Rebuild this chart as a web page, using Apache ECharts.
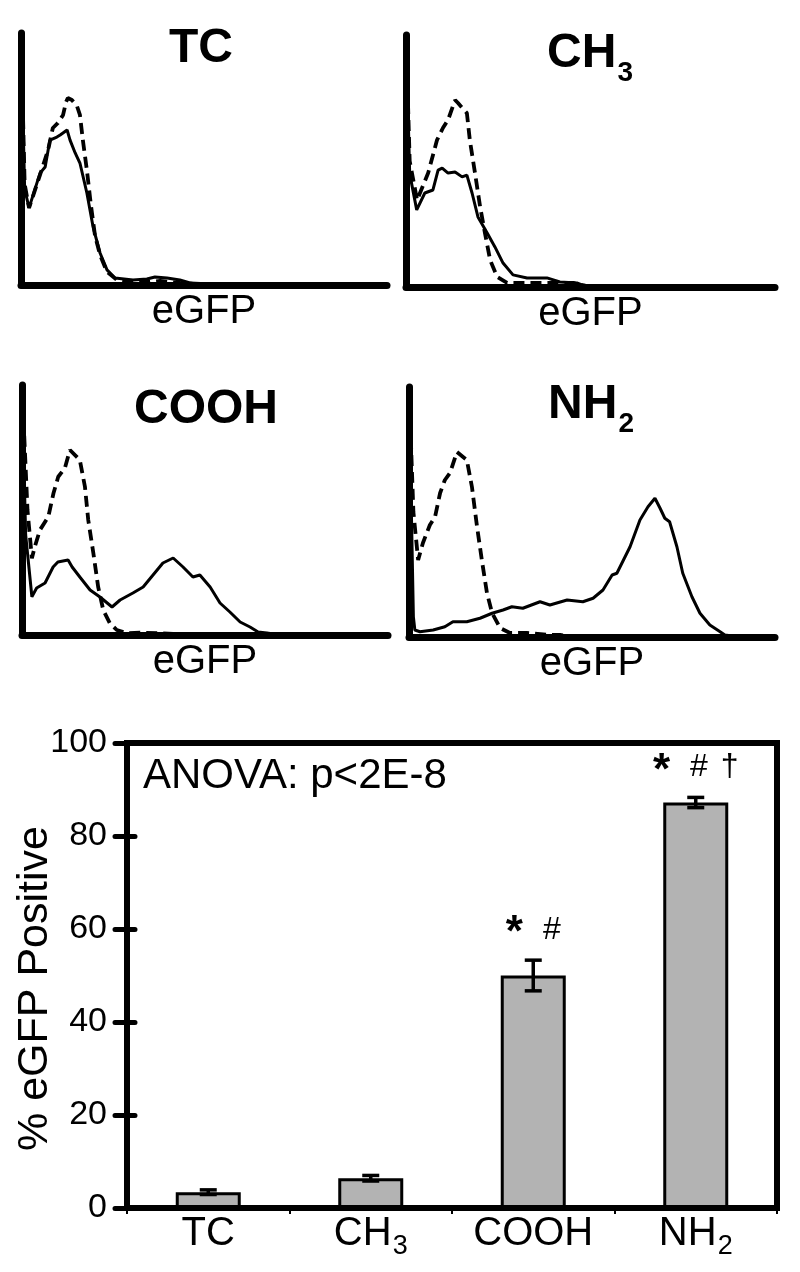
<!DOCTYPE html>
<html><head><meta charset="utf-8">
<script src="https://cdn.jsdelivr.net/npm/echarts@6/dist/echarts.min.js"></script>
<style>html,body{margin:0;padding:0;background:#fff}#c{width:800px;height:1272px}</style>
</head><body><div id="c"></div>
<script>
const FONT = "'Liberation Sans', Arial, Helvetica, sans-serif";

// ---- histogram panels ----
const panelTitles = ['TC', 'CH3', 'COOH', 'NH2'];
const histXLabel = 'eGFP';
const tcSolid = [[0,100],[1,38],[2.2,30.6],[5.2,44.4],[6.6,46.8],[7.9,57.5],[9.8,58.7],[10.7,59.5],[12.6,61.5],[13.4,57.5],[14.8,52.4],[16.1,48.4],[18.0,36.5],[19.7,23.0],[21.6,12.7],[23.5,6.0],[25.7,2.8],[30.6,2.0],[34.4,2.4],[36.6,3.2],[39.9,2.8],[43.4,2.0],[46.2,0.8],[49,0]];
const tcDashed = [[0,100],[1,40],[2.2,30.6],[5.2,43.7],[7.4,53.6],[8.7,62.3],[10.1,64.3],[11.5,67.5],[12.3,72.6],[12.8,74.2],[13.9,73.4],[15.3,71.0],[16.1,67.5],[16.9,57.5],[18.0,45.6],[19.1,31.7],[20.2,19.8],[21.6,11.9],[23.5,5.2],[26.2,2.0],[29.8,1.2],[35.2,1.2],[38,1.6],[43.4,0.8],[49,0.4],[52,0]];
const ch3Solid = [[0,100],[1,45],[2.9,30.6],[5.1,37.3],[7.3,38.5],[8.7,46.4],[9.8,47.2],[11.4,45.2],[13.3,45.6],[15.2,43.7],[16.5,44.4],[17.9,37.3],[19.5,27.8],[22.0,21.4],[24.1,15.9],[26.3,9.5],[29.0,4.8],[32.8,3.6],[38.2,3.6],[41.7,2.0],[46.3,1.6],[47.7,0.8],[52.6,0]];
const ch3Dashed = [[0,100],[1,50],[3.0,34.5],[6.0,45.2],[8.4,58.3],[10.0,63.1],[11.4,66.3],[13.3,74.2],[14.1,73.0],[16.5,69.0],[17.3,58.3],[18.7,45.2],[20.1,31.7],[21.4,21.4],[22.8,10.7],[24.7,4.0],[27.4,1.6],[32.8,1.6],[39.0,1.6],[45.3,1.6],[50,0]];
const coohSolid = [[0,100],[1,40],[2.7,15.3],[4.0,18.8],[6.3,20.8],[8.5,27.2],[9.8,29.2],[12.6,30.0],[13.7,27.2],[15.8,23.2],[18.6,18.0],[21.3,15.2],[24.6,11.2],[26.8,14.0],[30.3,16.8],[33.1,19.2],[35.8,24.0],[38.5,28.8],[41.3,30.8],[44.0,27.2],[46.7,23.2],[48.6,24.0],[51.4,19.2],[54.1,12.8],[56.8,9.2],[59.6,5.2],[62.3,3.2],[64.5,1.2],[66.9,0.8],[70.5,0]];
const coohDashed = [[0,100],[1.5,50],[2.7,30.7],[3.5,35.3],[4.9,42.0],[7.2,47.3],[8.6,56.7],[9.9,63.3],[11.7,66.7],[13.1,74.0],[15.8,70.0],[17.2,59.3],[18.1,46.0],[19.5,32.7],[20.8,19.3],[22.2,10.0],[24.0,4.7],[25.9,2.0],[28.6,0.7],[32.2,0.9],[37.7,0.7],[41.3,0.4],[45,0]];
const nh2Solid = [[0,100],[1.2,8],[1.6,2.8],[3.0,2.1],[6.6,2.8],[9.8,4.1],[12.0,6.1],[15.8,6.1],[19.4,7.5],[22.7,9.5],[25.7,10.8],[28.1,12.1],[31.1,11.5],[35.8,14.1],[38.5,12.8],[43.2,14.8],[47.5,14.1],[50.3,15.5],[53.0,18.8],[55.5,24.8],[56.8,25.5],[60.4,36.1],[63.1,46.8],[65.3,52.1],[67.2,55.5],[68.6,51.5],[69.9,47.5],[71.2,46.1],[73.2,36.1],[74.8,25.5],[77.3,16.1],[79.5,9.5],[82.2,4.8],[85.0,2.1],[86.3,0.8],[90.4,0]];
const nh2Dashed = [[0,100],[1.2,50],[2.5,30.8],[3.8,37.6],[5.7,44.8],[7.1,48.0],[8.5,57.6],[9.8,62.8],[11.2,65.6],[13.1,74.0],[15.8,70.8],[17.2,60.0],[18.6,44.0],[19.9,30.8],[21.3,17.6],[22.7,9.6],[24.9,3.6],[27.6,1.6],[32.2,1.6],[38.5,0.8],[41.3,0.8],[45,0]];
const solidSets = [tcSolid, ch3Solid, coohSolid, nh2Solid];
const dashedSets = [tcDashed, ch3Dashed, coohDashed, nh2Dashed];

// ---- bar chart ----
const barCategories = ['TC', 'CH3', 'COOH', 'NH2'];
const barMeans = [3.4, 6.4, 50.0, 87.2];
const barErrors = [0.5, 0.6, 3.3, 1.1];
const barMarks = [[], [], ['*', '#'], ['*', '#', '†']];
const yMin = 0, yMax = 100, yInterval = 20;
const anovaText = 'ANOVA: p<2E-8';
const yAxisTitle = '% eGFP Positive';

function subRich(label) {
  const m = label.match(/^(.*?)(\d+)$/);
  return m ? '{m|' + m[1] + '}{s|' + m[2] + '}' : '{m|' + label + '}';
}

const histGrids = [
  {left: 21, top: 33, width: 366, height: 252},
  {left: 406, top: 35, width: 369, height: 252},
  {left: 22, top: 385, width: 366, height: 250},
  {left: 409, top: 387, width: 366, height: 250}
];
const barGrid = {left: 127, top: 743, width: 650, height: 465, show: true, borderColor: '#000', borderWidth: 6};

const titlePos = [[201, 25], [590, 30], [206, 386], [591, 381]];

const grid = [], xAxis = [], yAxis = [], series = [], graphic = [];
histGrids.forEach((g, i) => {
  grid.push(Object.assign({containLabel: false, outerBoundsMode: 'none'}, g));
  const axLine = {show: true, lineStyle: {color: '#000', width: 7, cap: 'round'}};
  xAxis.push({gridIndex: i, type: 'value', min: 0, max: 100, axisLine: axLine, axisTick: {show: false},
    axisLabel: {show: false}, splitLine: {show: false},
    name: histXLabel, nameLocation: 'middle', nameGap: 7,
    nameTextStyle: {fontFamily: FONT, fontSize: 40, color: '#000', verticalAlign: 'top'}});
  yAxis.push({gridIndex: i, type: 'value', min: 0, max: 100, axisLine: axLine, axisTick: {show: false},
    axisLabel: {show: false}, splitLine: {show: false}});
  series.push({type: 'line', xAxisIndex: i, yAxisIndex: i, data: dashedSets[i], showSymbol: false, symbol: 'none',
    lineStyle: {color: '#000', width: 3.8, type: [11, 6]}, silent: true, animation: false, z: 3});
  series.push({type: 'line', xAxisIndex: i, yAxisIndex: i, data: solidSets[i], showSymbol: false, symbol: 'none',
    lineStyle: {color: '#000', width: 3}, silent: true, animation: false, z: 4});
  graphic.push({type: 'text', x: titlePos[i][0], y: titlePos[i][1], z: 10,
    style: {text: subRich(panelTitles[i]), align: 'center', verticalAlign: 'top', textAlign: 'center', textVerticalAlign: 'top',
      rich: {
        m: {fontFamily: FONT, fontSize: 48, fontWeight: 'bold', lineHeight: 48, verticalAlign: 'top', fill: '#000', color: '#000'},
        s: {fontFamily: FONT, fontSize: 28, fontWeight: 'bold', lineHeight: 28, padding: [29, 0, 0, 1], verticalAlign: 'top', fill: '#000', color: '#000'}
      }}});
});

// bar grid
grid.push(Object.assign({containLabel: false, outerBoundsMode: 'none'}, barGrid));
const bi = 4;
xAxis.push({gridIndex: bi, type: 'category', data: barCategories,
  axisLine: {show: true, lineStyle: {color: '#000', width: 6, cap: 'round'}},
  axisTick: {show: true, length: 6, lineStyle: {color: '#000', width: 2}},
  axisLabel: {margin: 6, color: '#000', formatter: v => subRich(v),
    rich: {
      m: {fontFamily: FONT, fontSize: 40, lineHeight: 40, verticalAlign: 'top', color: '#000'},
      s: {fontFamily: FONT, fontSize: 27, lineHeight: 27, padding: [19, 0, 0, 1], verticalAlign: 'top', color: '#000'}
    }}});
yAxis.push({gridIndex: bi, type: 'value', min: yMin, max: yMax, interval: yInterval,
  axisLine: {show: true, lineStyle: {color: '#000', width: 6, cap: 'round'}},
  axisTick: {show: true, length: 12, lineStyle: {color: '#000', width: 5, cap: 'round'}},
  axisLabel: {margin: 20, color: '#000', fontFamily: FONT, fontSize: 34},
  splitLine: {show: false},
  name: yAxisTitle, nameLocation: 'middle', nameGap: 70, nameMoveOverlap: false,
  nameTextStyle: {fontFamily: FONT, fontSize: 43, color: '#000', padding: [0, 26, 0, 0]}});
// inner half of the crossing ticks
yAxis.push({gridIndex: bi, type: 'value', min: yMin, max: yMax, interval: yInterval, position: 'left',
  axisLine: {show: false}, axisLabel: {show: false}, splitLine: {show: false},
  axisTick: {show: true, inside: true, length: 8, lineStyle: {color: '#000', width: 5, cap: 'round'}}});

series.push({type: 'bar', xAxisIndex: bi, yAxisIndex: bi, data: barMeans, barWidth: 65,
  itemStyle: {color: '#b3b3b3', borderColor: '#000', borderWidth: 3}, animation: false, z: 2});

series.push({type: 'custom', xAxisIndex: bi, yAxisIndex: bi, animation: false, z: 5,
  data: barMeans.map((m, i) => [i, m - barErrors[i], m + barErrors[i]]),
  renderItem: function (params, api) {
    const i = api.value(0);
    const lo = api.coord([i, api.value(1)]);
    const hi = api.coord([i, api.value(2)]);
    const hw = 8.5;
    const st = {stroke: '#000', lineWidth: 3.5};
    const children = [
      {type: 'line', shape: {x1: lo[0], y1: lo[1], x2: hi[0], y2: hi[1]}, style: st},
      {type: 'line', shape: {x1: lo[0] - hw, y1: lo[1], x2: lo[0] + hw, y2: lo[1]}, style: st},
      {type: 'line', shape: {x1: hi[0] - hw, y1: hi[1], x2: hi[0] + hw, y2: hi[1]}, style: st}
    ];
    const marks = barMarks[params.dataIndex];
    if (marks.length) {
      let txt = '{s|' + marks[0] + '}';
      if (marks[1]) txt += '{h|' + marks[1] + '}';
      if (marks[2]) txt += '{d|' + marks[2] + '}';
      children.push({type: 'text', x: hi[0], y: hi[1] - 48,
        style: {text: txt, align: 'center', verticalAlign: 'top', textAlign: 'center', textVerticalAlign: 'top',
          rich: {
            s: {fontFamily: FONT, fontSize: 44, fontWeight: 'bold', lineHeight: 44, padding: [0, 0, 0, 0], verticalAlign: 'top', fill: '#000'},
            h: {fontFamily: FONT, fontSize: 32, lineHeight: 32, padding: [2, 0, 0, 20], verticalAlign: 'top', fill: '#000'},
            d: {fontFamily: FONT, fontSize: 32, lineHeight: 32, padding: [2, 0, 0, 13], verticalAlign: 'top', fill: '#000'}
          }}});
    }
    return {type: 'group', children: children};
  }});

graphic.push({type: 'text', x: 143, y: 755, z: 10,
  style: {text: anovaText, fontFamily: FONT, fontSize: 42, font: '42px ' + FONT, fill: '#000', align: 'left', verticalAlign: 'top', textAlign: 'left', textVerticalAlign: 'top'}});

const chart = echarts.init(document.getElementById('c'), null, {renderer: 'canvas'});
chart.setOption({
  backgroundColor: '#fff',
  animation: false,
  textStyle: {fontFamily: FONT},
  grid: grid, xAxis: xAxis, yAxis: yAxis, series: series, graphic: graphic
});
</script></body></html>
